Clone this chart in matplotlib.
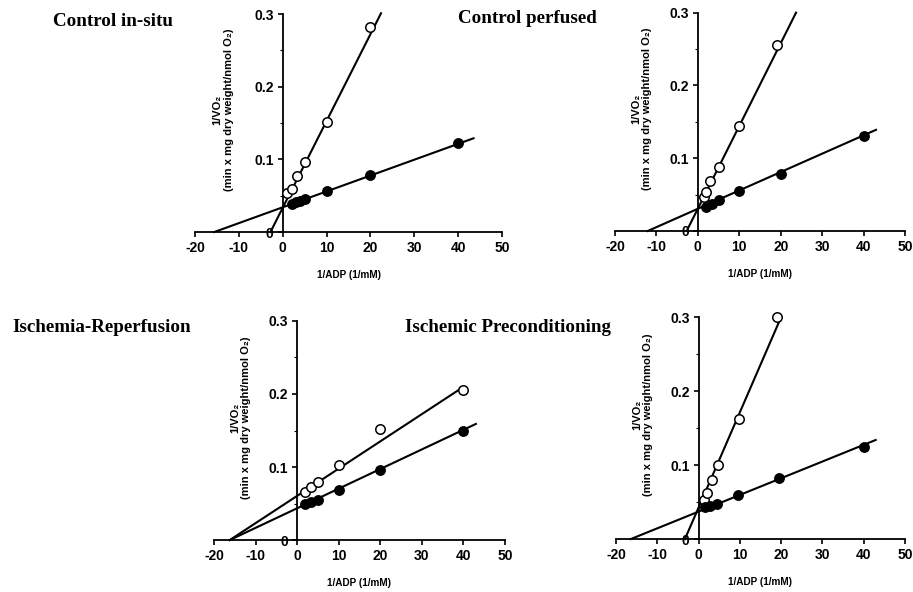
import numpy as np
import matplotlib.pyplot as plt

# Control in-situ
insitu_open_x = [1, 2, 3.3, 5, 10, 20]
insitu_open_y = [0.053, 0.059, 0.077, 0.097, 0.152, 0.282]
insitu_fill_x = [2, 3, 4, 5, 10, 20, 40]
insitu_fill_y = [0.039, 0.041, 0.043, 0.045, 0.056, 0.079, 0.123]
insitu_open_line_x = [-2.8, 22.4]
insitu_open_line_y = [0.0, 0.301]
insitu_fill_line_x = [-15.6, 43.5]
insitu_fill_line_y = [0.0, 0.129]

# Control perfused
perf_open_x = [1.4, 2, 3, 5, 10, 19]
perf_open_y = [0.047, 0.054, 0.069, 0.088, 0.144, 0.256]
perf_fill_x = [2, 3.3, 5, 10, 20, 40]
perf_fill_y = [0.033, 0.037, 0.042, 0.055, 0.079, 0.130]
perf_open_line_x = [-2.7, 23.7]
perf_open_line_y = [0.0, 0.300]
perf_fill_line_x = [-12.1, 43]
perf_fill_line_y = [0.0, 0.139]

# Ischemia-Reperfusion
ir_open_x = [2, 3.4, 5, 10, 20, 40]
ir_open_y = [0.066, 0.073, 0.079, 0.103, 0.152, 0.206]
ir_fill_x = [2, 3.3, 5, 10, 20, 40]
ir_fill_y = [0.050, 0.052, 0.055, 0.069, 0.096, 0.150]
ir_open_line_x = [-16.2, 39.8]
ir_open_line_y = [0.0, 0.209]
ir_fill_line_x = [-16.2, 43]
ir_fill_line_y = [0.0, 0.159]

# Ischemic Preconditioning
ipc_open_x = [1.3, 2, 3.2, 4.6, 9.8, 19]
ipc_open_y = [0.053, 0.062, 0.080, 0.100, 0.162, 0.301]
ipc_fill_x = [1.6, 2.8, 4.4, 9.6, 19.5, 40]
ipc_fill_y = [0.043, 0.045, 0.048, 0.060, 0.082, 0.125]
ipc_open_line_x = [-3.3, 19.9]
ipc_open_line_y = [0.0, 0.299]
ipc_fill_line_x = [-16.4, 42.9]
ipc_fill_line_y = [0.0, 0.134]

x_ticks = [-20, -10, 0, 10, 20, 30, 40, 50]
y_ticks = [0, 0.1, 0.2, 0.3]
y_tick_labels = ['0', '0.1', '0.2', '0.3']

titles = ['Control in-situ', 'Control perfused', 'Ischemia-Reperfusion', 'Ischemic Preconditioning']

sans = ['Liberation Sans', 'DejaVu Sans']
serif = ['Liberation Serif', 'DejaVu Serif']

fig = plt.figure(figsize=(9.13, 5.92), dpi=100)

# положение осей в долях фигуры
rects = [
    [0.2136, 0.6081, 0.3363, 0.3682],
    [0.6736, 0.6098, 0.3176, 0.3688],
    [0.2344, 0.0878, 0.3187, 0.3700],
    [0.6747, 0.0895, 0.3165, 0.3745],
]

panels = [
    (insitu_open_x, insitu_open_y, insitu_fill_x, insitu_fill_y,
     insitu_open_line_x, insitu_open_line_y, insitu_fill_line_x, insitu_fill_line_y),
    (perf_open_x, perf_open_y, perf_fill_x, perf_fill_y,
     perf_open_line_x, perf_open_line_y, perf_fill_line_x, perf_fill_line_y),
    (ir_open_x, ir_open_y, ir_fill_x, ir_fill_y,
     ir_open_line_x, ir_open_line_y, ir_fill_line_x, ir_fill_line_y),
    (ipc_open_x, ipc_open_y, ipc_fill_x, ipc_fill_y,
     ipc_open_line_x, ipc_open_line_y, ipc_fill_line_x, ipc_fill_line_y),
]

for rect, p in zip(rects, panels):
    ox, oy, fx, fy, olx, oly, flx, fly = p
    ax = fig.add_axes(rect)
    ax.plot(olx, oly, color='black', lw=1.5, clip_on=False, zorder=2)
    ax.plot(flx, fly, color='black', lw=1.5, clip_on=False, zorder=2)
    ax.plot(ox, oy, 'o', mfc='white', mec='black', mew=1.1, ms=6.8, clip_on=False, zorder=3)
    ax.plot(fx, fy, 'o', color='black', ms=6.8, clip_on=False, zorder=3)

    ax.set_xlim(-20, 50)
    ax.set_ylim(0, 0.3)
    ax.spines['top'].set_visible(False)
    ax.spines['right'].set_visible(False)
    ax.spines['left'].set_position(('data', 0))
    ax.spines['left'].set_linewidth(1.3)
    ax.spines['bottom'].set_linewidth(1.3)

    ax.set_xticks(x_ticks)
    ax.set_xticklabels([str(t) for t in x_ticks], fontfamily=sans, fontweight='bold', fontsize=10)
    ax.set_yticks(y_ticks)
    ax.set_yticklabels(y_tick_labels, fontfamily=sans, fontweight='bold', fontsize=10)
    ax.set_yticks([0.05, 0.15, 0.25], minor=True)
    ax.tick_params(axis='both', which='major', direction='out', length=3.5, width=1.2, pad=3)
    ax.tick_params(axis='y', which='minor', direction='out', length=2, width=0.8)

    ax.set_xlabel('1/ADP (1/mM)', fontfamily=sans, fontweight='bold', fontsize=7.2, labelpad=11)
    ax.text(-13.6, 0.56, '1/VO\u2082\n(min x mg dry weight/nmol O\u2082)',
            transform=ax.get_xaxis_transform(), rotation=90, ha='center', va='center',
            multialignment='center', fontfamily=sans, fontweight='bold', fontsize=8,
            linespacing=1.15)

fig.text(0.058, 0.9645, titles[0], fontfamily=serif, fontweight='bold', fontsize=13.7, ha='left', va='center')
fig.text(0.5016, 0.968, titles[1], fontfamily=serif, fontweight='bold', fontsize=13.7, ha='left', va='center')
fig.text(0.013, 0.4476, titles[2], fontfamily=serif, fontweight='bold', fontsize=13.7, ha='left', va='center')
fig.text(0.4436, 0.4476, titles[3], fontfamily=serif, fontweight='bold', fontsize=13.7, ha='left', va='center')

fig.savefig('out.png', dpi=100)
